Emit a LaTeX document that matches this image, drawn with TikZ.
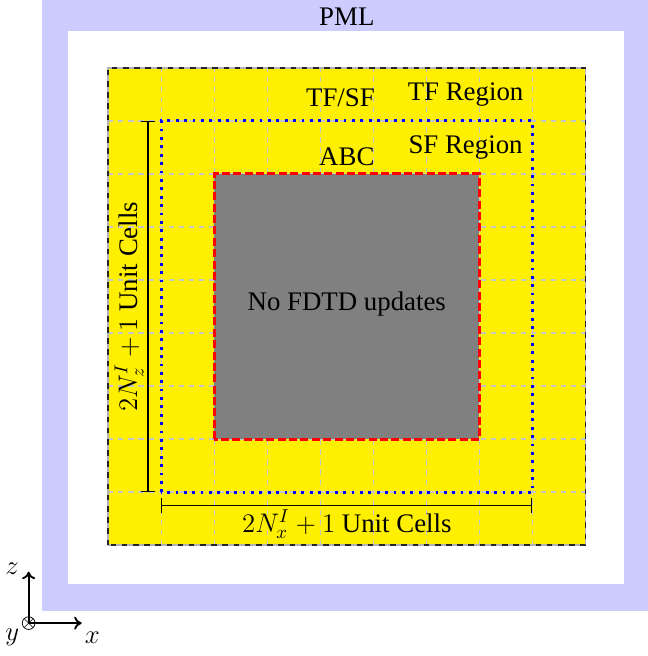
\documentclass[tikz,border=0pt]{standalone}
\usepackage{fontspec}
\setmainfont{Liberation Serif}
\usepackage{amsmath}
\usetikzlibrary{arrows.meta,calc}
\definecolor{pmlblue}{HTML}{CCCCFF}
\definecolor{tfyellow}{HTML}{FFEF00}
\tikzset{
  pmlbox/.style={fill=pmlblue},
  gridln/.style={draw=gray!45, line width=.7pt, dash pattern=on 2.8pt off 2.6pt},
  tfsfln/.style={draw=blue, line width=1.6pt, dash pattern=on 1.5pt off 3pt},
  abcbox/.style={draw=red, fill=gray, line width=1.6pt, dash pattern=on 4.3pt off 1.8pt},
  dimln/.style={line width=.6pt, {Bar[width=8pt]}-{Bar[width=8pt]}},
  axisln/.style={-{To[length=4pt,width=7pt]}, line width=1pt},
  lbl/.style={font=\Large, inner sep=1pt},
}
\begin{document}
\begin{tikzpicture}
  \useasboundingbox (-2.04,-2.09) rectangle (10.17,10.28);
  % PML and free space
  \fill[pmlbox] (-1.25,-1.25) rectangle (10.25,10.28);
  \fill[white] (-0.75,-0.73) rectangle (9.72,9.7);
  % computational domain with grid
  \fill[tfyellow] (0,0) rectangle (9,9);
  \foreach \i in {1,...,8}{
    \draw[gridln] (\i,0) -- (\i,9);
    \draw[gridln] (0,\i) -- (9,\i);
  }
  \draw[gray!60, line width=.8pt] (0,0) rectangle (9,9);
  \draw[black!85, line width=.8pt, dashed] (0,0) rectangle (9,9);
  % ABC region and TF/SF boundary
  \draw[abcbox] (2,2) rectangle (7,7);
  \draw[tfsfln] (1,1) rectangle (8,8);
  % labels
  \node[lbl] (pml) at (4.5,9.97) {PML};
  \node[lbl] (tfsf) at (4.38,8.43) {TF/SF};
  \node[lbl] (tfreg) at (6.74,8.5) {TF Region};
  \node[lbl] (sfreg) at (6.74,7.5) {SF Region};
  \node[lbl] (abc) at (4.5,7.32) {ABC};
  \node[lbl] (noupd) at (4.5,4.55) {No FDTD updates};
  % dimensions
  \coordinate (zlo) at (0.75,1);
  \coordinate (zhi) at (0.75,8);
  \coordinate (xlo) at (1,0.75);
  \coordinate (xhi) at (8,0.75);
  \draw[dimln] (zlo) -- node[lbl, midway, sloped, above=1pt] {$2N_z^I+1$ Unit Cells} (zhi);
  \draw[dimln] (xlo) -- node[lbl, midway, below=1pt] {$2N_x^I+1$ Unit Cells} (xhi);
  % axes
  \coordinate (orig) at (-1.5,-1.47);
  \coordinate (zend) at (-1.5,-0.5);
  \coordinate (xend) at (-0.5,-1.47);
  \draw[axisln] (orig) -- (zend);
  \draw[axisln] (orig) -- (xend);
  \draw[line width=.4pt] (orig) circle (0.12);
  \draw[line width=.3pt] ($(orig)+(-0.085,-0.085)$) -- ($(orig)+(0.085,0.085)$);
  \draw[line width=.3pt] ($(orig)+(-0.085,0.085)$) -- ($(orig)+(0.085,-0.085)$);
  \node[lbl] (zlbl) at (-1.81,-0.45) {$z$};
  \node[lbl] (ylbl) at (-1.81,-1.74) {$y$};
  \node[lbl] (xlbl) at (-0.3,-1.74) {$x$};
\end{tikzpicture}
\end{document}
